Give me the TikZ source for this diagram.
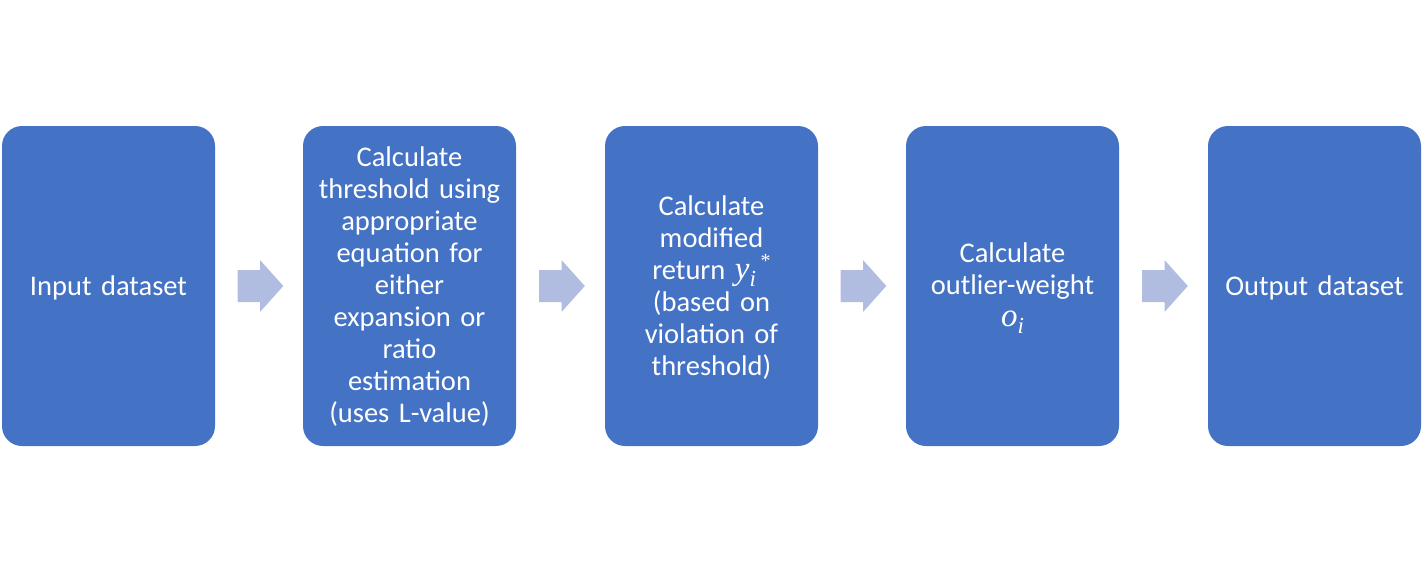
\documentclass[tikz,border=0pt]{standalone}
\usepackage{fontspec}
\setmainfont{Carlito}
\newfontfamily\mathserif{Liberation Serif}
\usetikzlibrary{calc}
\definecolor{boxblue}{HTML}{4472C4}
\definecolor{arrowblue}{HTML}{B1BDE0}
\tikzset{
  procbox/.style={fill=boxblue, rounded corners=20pt, minimum width=213pt, minimum height=320pt,
    inner sep=0pt, text=white, align=center, text width=205pt,
    font=\fontsize{28.5pt}{32pt}\selectfont},
  proctext/.style={text=white, align=center, text width=205pt, inner sep=0pt,
    font=\fontsize{28.5pt}{32pt}\selectfont},
  blockarrow/.style={fill=arrowblue}
}
\newcommand\mitvar[1]{{\mathserif\itshape\fontsize{33pt}{32pt}\selectfont #1}}
\newcommand\mitsub[1]{\raisebox{-0.25em}{\mathserif\itshape\fontsize{23pt}{24pt}\selectfont #1}}
\newcommand\mitsup[1]{\raisebox{0.42em}{\mathserif\fontsize{20pt}{22pt}\selectfont #1}}
\newcommand\blockarr[2]{%
  \coordinate (m) at ($(#1.east)!0.5!(#2.west)+(1.5,0)$);
  \fill[blockarrow] ($(m)+(-22.8,-16)$) -- ($(m)+(-0.5,-16)$) -- ($(m)+(-0.5,-26)$) -- ($(m)+(22.8,0)$)
    -- ($(m)+(-0.5,26)$) -- ($(m)+(-0.5,16)$) -- ($(m)+(-22.8,16)$) -- cycle;}
\begin{document}
\begin{tikzpicture}[x=1pt,y=-1pt]
\useasboundingbox (0,0) rectangle (1423,573);
\node[procbox] (b1) at (108.5,286) {};
\node[procbox] (b2) at (409.5,286) {};
\node[procbox] (b3) at (711.5,286) {};
\node[procbox] (b4) at (1012.5,286) {};
\node[procbox] (b5) at (1314.5,286) {};
\node[proctext] (t1) at ($(b1.center)+(0,2)$) {Input dataset};
\node[proctext] (t2) at ($(b2.center)+(0,1)$) {Calculate\\threshold using\\appropriate\\equation for\\either\\expansion or\\ratio\\estimation\\(uses L-value)};
\node[proctext] (t3) at ($(b3.center)+(0,1.5)$) {Calculate\\modified\\return \mitvar{y}\mitsub{i}\,\mitsup{*}\\(based on\\violation of\\threshold)};
\node[proctext] (t4) at ($(b4.center)+(0,2)$) {Calculate\\outlier-weight\\\mitvar{o}\mitsub{i}};
\node[proctext] (t5) at ($(b5.center)+(0,2)$) {Output dataset};
\blockarr{b1}{b2}
\blockarr{b2}{b3}
\blockarr{b3}{b4}
\blockarr{b4}{b5}
\end{tikzpicture}
\end{document}
